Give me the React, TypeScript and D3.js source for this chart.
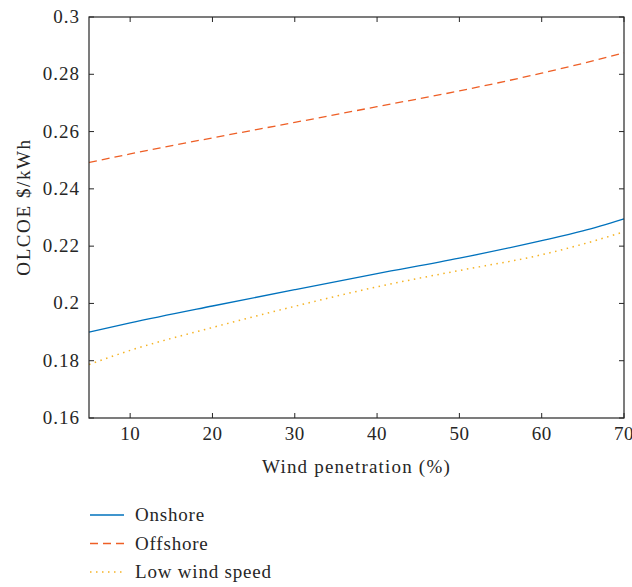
import React, { useEffect, useRef } from 'react';
import * as d3 from 'd3';

const penetration = [5, 10, 20, 30, 40, 50, 60, 65, 70];
const onshore = [0.19, 0.1932, 0.1991, 0.2048, 0.2104, 0.2158, 0.2219, 0.2253, 0.2295];
const offshore = [0.2492, 0.2522, 0.2578, 0.2632, 0.2687, 0.2742, 0.2804, 0.2838, 0.2875];
const lowWind = [0.1787, 0.1836, 0.1916, 0.199, 0.2058, 0.2115, 0.217, 0.2207, 0.225];

const xTicks = [10, 20, 30, 40, 50, 60, 70];
const yTicks = [0.16, 0.18, 0.2, 0.22, 0.24, 0.26, 0.28, 0.3];

const seriesNames = ['Onshore', 'Offshore', 'Low wind speed'];

const App = () => {
  const svgRef = useRef(null);

  useEffect(() => {
    const W = 632, H = 587;
    const margin = { top: 17, right: 8, bottom: 169, left: 89 };
    const width = W - margin.left - margin.right;
    const height = H - margin.top - margin.bottom;
    const font = '"Liberation Serif", "Times New Roman", serif';
    const ink = '#262626';

    const root = d3.select(svgRef.current);
    root.selectAll('*').remove();
    root.attr('width', W).attr('height', H);

    const svg = root.append('g').attr('transform', `translate(${margin.left},${margin.top})`);

    const x = d3.scaleLinear().domain([5, 70]).range([0, width]);
    const y = d3.scaleLinear().domain([0.16, 0.3]).range([height, 0]);

    const series = [
      { name: seriesNames[0], values: onshore, color: '#0072BD', dash: null, w: 1.3 },
      { name: seriesNames[1], values: offshore, color: '#EE5F26', dash: '8,5', w: 1.3 },
      { name: seriesNames[2], values: lowWind, color: '#F5B324', dash: '1.5,4.5', w: 1.5 },
    ];

    const line = d3.line<number>()
      .x((d, i) => x(penetration[i]))
      .y(d => y(d))
      .curve(d3.curveMonotoneX);

    series.forEach(s => {
      svg.append('path')
        .datum(s.values)
        .attr('d', line)
        .attr('fill', 'none')
        .attr('stroke', s.color)
        .attr('stroke-width', s.w)
        .attr('stroke-dasharray', s.dash);
    });

    // frame
    svg.append('rect')
      .attr('x', 0).attr('y', 0)
      .attr('width', width).attr('height', height)
      .attr('fill', 'none')
      .attr('stroke', ink)
      .attr('stroke-width', 1.2);

    const tl = 5;
    xTicks.forEach(t => {
      svg.append('line').attr('x1', x(t)).attr('x2', x(t)).attr('y1', height).attr('y2', height - tl).attr('stroke', ink);
      svg.append('line').attr('x1', x(t)).attr('x2', x(t)).attr('y1', 0).attr('y2', tl).attr('stroke', ink);
      svg.append('text')
        .attr('x', x(t)).attr('y', height + 22)
        .attr('text-anchor', 'middle')
        .attr('font-family', font).attr('font-size', 19).attr('letter-spacing', 0.5).attr('fill', ink)
        .text(t);
    });

    yTicks.forEach(t => {
      svg.append('line').attr('x1', 0).attr('x2', tl).attr('y1', y(t)).attr('y2', y(t)).attr('stroke', ink);
      svg.append('line').attr('x1', width).attr('x2', width - tl).attr('y1', y(t)).attr('y2', y(t)).attr('stroke', ink);
      svg.append('text')
        .attr('x', -9).attr('y', y(t) + 6)
        .attr('text-anchor', 'end')
        .attr('font-family', font).attr('font-size', 19).attr('letter-spacing', 1).attr('fill', ink)
        .text(d3.format('~g')(t));
    });

    svg.append('text')
      .attr('x', width / 2).attr('y', height + 55)
      .attr('text-anchor', 'middle')
      .attr('font-family', font).attr('font-size', 19).attr('letter-spacing', 1.2).attr('fill', ink)
      .text('Wind penetration (%)');

    svg.append('text')
      .attr('transform', `translate(-59,190) rotate(-90)`)
      .attr('text-anchor', 'middle')
      .attr('font-family', font).attr('font-size', 19).attr('letter-spacing', 1.6).attr('fill', ink)
      .text('OLCOE $/kWh');

    // legend
    const legend = root.append('g').attr('transform', 'translate(90,515)');
    series.forEach((s, i) => {
      const ly = i * 28.5;
      legend.append('line')
        .attr('x1', 0).attr('x2', 34).attr('y1', ly).attr('y2', ly)
        .attr('stroke', s.color).attr('stroke-width', s.w)
        .attr('stroke-dasharray', s.dash);
      legend.append('text')
        .attr('x', 45).attr('y', ly + 6)
        .attr('font-family', font).attr('font-size', 19).attr('letter-spacing', 0.8).attr('fill', ink)
        .text(s.name);
    });
  }, []);

  return (
    <svg ref={svgRef} style={{ display: 'block', position: 'absolute', left: 0, top: 0 }}></svg>
  );
};

export default App;
